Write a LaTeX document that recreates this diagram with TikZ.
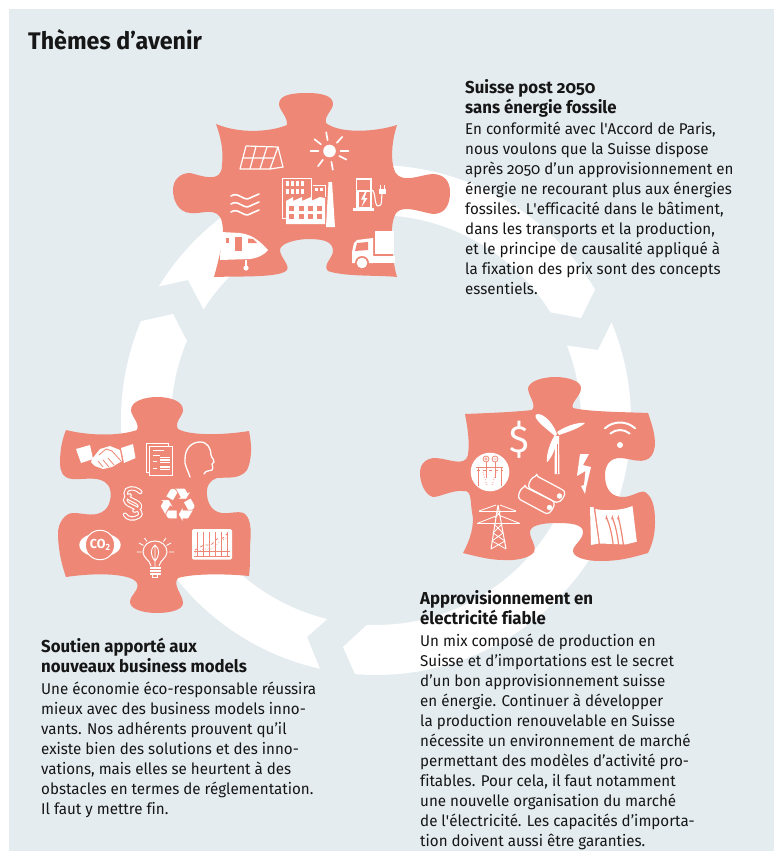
\documentclass[tikz,border=0pt]{standalone}
\usepackage{fontspec}
\setmainfont{Fira Sans}[FakeStretch=0.97,Numbers=OldStyle,Ligatures={TeX,NoCommon}]
\newfontfamily\symfont{DejaVu Sans}
\definecolor{bgc}{HTML}{E4ECF0}
\definecolor{salm}{HTML}{EE8775}
\definecolor{inkc}{HTML}{161616}
\tikzset{
  wf/.style={fill=white,draw=none},
  sf/.style={fill=salm,draw=none},
  wl/.style={draw=white,line width=1pt,fill=none},
  wlb/.style={draw=white,line width=1.4pt,fill=none,line cap=round},
  sl/.style={draw=salm,line width=.6pt,fill=none},
  piece/.style={fill=salm,draw=none},
  headtext/.style={anchor=north west,inner sep=0pt,align=left,text=inkc,font=\fontsize{17.3}{20}\selectfont\bfseries},
  bodytext/.style={anchor=north west,inner sep=0pt,align=left,text=inkc,font=\fontsize{15.6}{20}\selectfont},
}
\begin{document}
\begin{tikzpicture}[x=1pt,y=-1pt]
\useasboundingbox (0,0) rectangle (774,851);
\fill[bgc] (9,9) rectangle (774,851);
% ring bands
\fill[white] plot[domain=148.4:30.8,samples=60] ({376+255*cos(\x)},{420-255*sin(\x)})
  -- (581,318) -- plot[domain=31.7:147.3,samples=60] ({376+205*cos(\x)},{420-205*sin(\x)})
  -- (188,280) -- cycle;
\fill[white] plot[domain=22.5:-94.7,samples=60] ({376+255*cos(\x)},{420-255*sin(\x)})
  -- (343,647) -- plot[domain=-92.5:21.3,samples=60] ({376+205*cos(\x)},{420-205*sin(\x)})
  -- (598,350) -- cycle;
\fill[white] plot[domain=-102.7:-202.8,samples=60] ({376+255*cos(\x)},{420-255*sin(\x)})
  -- (173,314) -- plot[domain=-202.7:-103.8,samples=60] ({376+205*cos(\x)},{420-205*sin(\x)})
  -- (307,637) -- cycle;
% top piece
\fill[piece] (216,124) .. controls (240,134) and (270,132) .. (287,125)
 .. controls (288,117) and (279,110) .. (279,104)
 .. controls (279,94) and (295,93) .. (307,93)
 .. controls (320,93) and (333,95) .. (333,104)
 .. controls (333,110) and (324,116) .. (326,123)
 .. controls (340,134) and (375,132) .. (397,125)
 .. controls (392,140) and (390,160) .. (395,172)
 .. controls (402,184) and (420,175) .. (432,174)
 .. controls (445,174) and (450,182) .. (450,192)
 .. controls (450,205) and (445,214) .. (433,214)
 .. controls (420,212) and (405,205) .. (397,212)
 .. controls (388,222) and (392,260) .. (397,277)
 .. controls (380,275) and (345,277) .. (328,271)
 .. controls (322,265) and (333,258) .. (333,251)
 .. controls (333,240) and (320,239) .. (307,239)
 .. controls (290,240) and (280,245) .. (280,250)
 .. controls (280,257) and (290,265) .. (287,270)
 .. controls (280,278) and (240,276) .. (214,277)
 .. controls (220,255) and (225,235) .. (222,222)
 .. controls (218,205) and (200,215) .. (190,213)
 .. controls (178,212) and (173,200) .. (173,190)
 .. controls (173,180) and (180,173) .. (190,173)
 .. controls (200,175) and (222,185) .. (222,165)
 .. controls (224,150) and (220,135) .. (216,124) -- cycle;
% right piece
\fill[piece] (465,414) .. controls (490,413) and (515,412) .. (532,410)
 .. controls (537,404) and (528,396) .. (528,388)
 .. controls (530,380) and (545,377) .. (555,377)
 .. controls (568,377) and (581,381) .. (581,388)
 .. controls (581,396) and (570,403) .. (573,408)
 .. controls (590,412) and (625,412) .. (648,413)
 .. controls (654,430) and (658,445) .. (652,455)
 .. controls (645,466) and (630,458) .. (620,458)
 .. controls (610,458) and (605,465) .. (605,475)
 .. controls (605,490) and (612,497) .. (623,497)
 .. controls (632,497) and (640,490) .. (645,492)
 .. controls (655,498) and (655,515) .. (655,523)
 .. controls (655,535) and (652,545) .. (648,553)
 .. controls (630,558) and (620,561) .. (600,561)
 .. controls (585,561) and (573,557) .. (573,551)
 .. controls (573,545) and (583,540) .. (583,532)
 .. controls (583,524) and (570,523) .. (557,523)
 .. controls (540,523) and (530,526) .. (530,532)
 .. controls (530,540) and (537,545) .. (534,552)
 .. controls (530,558) and (515,561) .. (503,560)
 .. controls (490,560) and (475,556) .. (463,553)
 .. controls (470,540) and (475,525) .. (472,512)
 .. controls (470,500) and (472,490) .. (463,491)
 .. controls (452,490) and (440,497) .. (433,497)
 .. controls (425,495) and (420,483) .. (420,473)
 .. controls (420,463) and (427,458) .. (435,458)
 .. controls (447,458) and (465,468) .. (468,455)
 .. controls (470,440) and (467,425) .. (465,414) -- cycle;
% left piece
\fill[piece] (66,430) .. controls (90,436) and (120,436) .. (137,430)
 .. controls (140,423) and (131,416) .. (131,410)
 .. controls (131,401) and (145,397) .. (157,397)
 .. controls (170,397) and (183,401) .. (183,410)
 .. controls (183,416) and (174,422) .. (178,429)
 .. controls (190,436) and (225,435) .. (249,431)
 .. controls (252,445) and (252,460) .. (247,470)
 .. controls (240,480) and (225,477) .. (217,478)
 .. controls (210,480) and (206,486) .. (207,495)
 .. controls (208,505) and (213,512) .. (222,513)
 .. controls (230,514) and (240,510) .. (245,514)
 .. controls (252,520) and (251,535) .. (250,546)
 .. controls (250,560) and (250,568) .. (249,576)
 .. controls (230,574) and (195,573) .. (178,578)
 .. controls (172,585) and (183,595) .. (183,603)
 .. controls (183,610) and (170,613) .. (157,613)
 .. controls (143,613) and (130,609) .. (130,602)
 .. controls (130,595) and (140,590) .. (137,583)
 .. controls (132,574) and (100,572) .. (66,577)
 .. controls (60,560) and (58,545) .. (58,533)
 .. controls (58,523) and (65,513) .. (73,513)
 .. controls (85,513) and (95,518) .. (105,510)
 .. controls (112,503) and (112,490) .. (108,485)
 .. controls (100,475) and (85,480) .. (72,479)
 .. controls (62,478) and (60,470) .. (60,463)
 .. controls (60,450) and (62,440) .. (66,430) -- cycle;
% ---- icons top piece ----
% solar panel
\draw[wl,line width=1.2pt,line join=round] (246,146) -- (278,147) -- (270,169) -- (240,169) -- cycle;
\draw[wl,line width=1.2pt] (278,147) -- (283,167) -- (270,169);
\draw[wl,line width=1.2pt] (243,158) -- (274,158) (256,146.5) -- (250,169) (267,146.8) -- (260,169);
% sun
\fill[white] (329.5,151) circle (6.3);
\foreach \a in {0,48,100,142,180,233,280,333}{
  \draw[wlb,line width=1.7pt] ({329.5+11*cos(\a)},{151-11*sin(\a)}) -- ({329.5+19*cos(\a)},{151-19*sin(\a)});
}
% waves
\foreach \yy in {197,205,213}{
  \draw[wlb,line width=1.6pt] (231,\yy-1) .. controls (238,\yy-6) and (244,\yy+5) .. (250,\yy+1) .. controls (254,\yy-1) and (257,\yy-2) .. (259,\yy-3);
}
% factory
\draw[wl] (282.5,178) rectangle (311,218);
\foreach \xx in {286,291,296,301}{ \fill[white] (\xx,181) rectangle +(3.4,5); \fill[white] (\xx,189) rectangle +(3.4,5); }
\draw[wl,line width=.7pt] (313,185) -- (325,185) -- (325,197);
\fill[white] (315,188) rectangle +(3,3); \fill[white] (320,188) rectangle +(3,3);
\fill[white] (286,201) -- (293,197) -- (293,201) -- (302,197) -- (302,201) -- (311,197) -- (311,201) -- (320,197) -- (325,198) -- (325,224) -- (286,224) -- cycle;
\foreach \xx in {289,298.5,307.5,316.5}{ \fill[salm] (\xx,206) rectangle +(5,5); \fill[salm] (\xx,213.5) rectangle +(5,5); }
\fill[white] (328.5,182) -- (332,182) -- (335,227) -- (326,227) -- cycle;
% fuel pump
\fill[white] (353,208) rectangle (374,211);
\draw[wl,line width=1.3pt] (356.5,179) rectangle (371,208);
\fill[white] (356,190) rectangle (372,209);
\fill[salm] (358.5,192) rectangle (369.5,207);
\fill[white] (365,192) -- (361,199.5) -- (364,199.5) -- (361.5,207) -- (367.5,198) -- (364.5,198) -- (366.5,192) -- cycle;
\draw[wl,line width=1.1pt] (372,190) .. controls (376,192) and (374,205) .. (378,206) .. controls (383,206) and (381,200) .. (382,194);
\fill[white] (378.5,189) rectangle (385.5,194);
\draw[wl,line width=.9pt] (380,185) -- (380,189) (384,185) -- (384,189);
% plane
\fill[white] (221,232) -- (240,233) .. controls (255,235) and (262,244) .. (268,250) .. controls (264,255) and (258,258) .. (250,259) -- (220,260) -- cycle;
\fill[salm] (226,238) rectangle (229,243);
\fill[salm] (235,237) rectangle (242,251);
\fill[salm] (248,238.5) -- (253,239) -- (257,243) -- (248,243) -- cycle;
\draw[wl,line width=1.2pt] (246,260) -- (246,266);
\fill[white] (246,268) circle (2.6);
% truck
\fill[white] (375,231) rectangle (394,254);
\fill[white] (372,256) rectangle (394.5,263);
\fill[white] (352,252) -- (354,243) -- (357,240) -- (373,238) -- (373,263) -- (352,263) -- cycle;
\fill[salm] (357,243) -- (368,242) -- (368,250) -- (355,251) -- cycle;
\fill[salm] (362,263) circle (7);
\fill[white] (362,263) circle (5.3);
% ---- icons right piece ----
\node[text=white,inner sep=0pt,font=\fontsize{38}{38}\selectfont] (dollar) at (519,440) {\$};
% turbine
\fill[white] (557,434) .. controls (552,420) and (540,411) .. (535.5,415) .. controls (534,420) and (548,430) .. (555,436) -- cycle;
\fill[white] (557,432) .. controls (567,425) and (580,422) .. (585,423) .. controls (580,428) and (568,432) .. (559,435) -- cycle;
\fill[white] (558.5,437) .. controls (556,447) and (552,458) .. (547,462) .. controls (546,455) and (550,442) .. (555,435) -- cycle;
\fill[white] (555,436) -- (559,436) -- (559.5,474) -- (554.5,474) -- cycle;
\fill[salm] (556.7,444) rectangle (557.5,474);
% wifi
\fill[white] (620,445) circle (3);
\draw[wlb,line width=2pt] ({620+22.5*cos(132)},{445-22.5*sin(132)}) arc[start angle=228,end angle=312,radius=22.5];
\draw[wlb,line width=2pt] ({620+15*cos(130)},{445-15*sin(130)}) arc[start angle=230,end angle=310,radius=15];
% lightning
\fill[white] (580,454) -- (589,454) -- (583,465) -- (591,467) -- (586,488) -- (585,494) -- (581,486) -- (584,485) -- (585.5,471) -- (577,476) -- cycle;
% meter
\fill[white] (490,472) circle (19.3);
\draw[sl,line width=.8pt] (486,459) circle (3) (495,459) circle (3) (484.3,459) -- (487.7,459) (486,457.3) -- (486,460.7) (493.5,459) -- (496.5,459);
\draw[sl,line width=.8pt] (476,467) -- (503,467) (478,467) -- (478,486) (501,467) -- (501,486) (486,462) -- (486,478) (495,462) -- (495,478);
\draw[sl,dotted,line width=1.1pt] (483,472) -- (487,486) (496,472) -- (492,486);
\draw[sl,dashed] (477,470) -- (503,470);
% batteries
\draw[draw=white,fill=salm,line width=1.2pt,rounded corners=1.5pt] (536.7,476) -- (563,490) .. controls (567,494) and (561,503) .. (555,502) -- (529,488) .. controls (528,483) and (532,477) .. (536.7,476) -- cycle;
\draw[draw=white,fill=salm,line width=1.2pt,rounded corners=1.5pt] (525,487) -- (553,501) .. controls (556,505) and (550,515) .. (545,513) -- (519,499) .. controls (518,494) and (521,488) .. (525,487) -- cycle;
\draw[draw=white,fill=white,line width=.5pt] (549.5,507.5) circle (2.4) (559.5,496) circle (2.4);
% pylon
\draw[wl,line width=1pt] (498,505) -- (491,549) (498,505) -- (506,549);
\draw[wl,line width=1pt] (479,511) -- (516,511) (477,523.5) -- (520,523.5);
\draw[wl,line width=.8pt] (479,511) -- (496,505) (516,511) -- (500,505) (477,523.5) -- (496,516) (520,523.5) -- (501,516);
\draw[wl,line width=.8pt] (494,524) -- (503,533) -- (492,541) -- (506,549) (502,524) -- (493,533) -- (505,541) -- (491,549) (496,511) -- (501,517) (501,511) -- (495,518);
% dam
\fill[white] (590,507) -- (593.5,507) -- (598.7,543.5) -- (591,545) -- cycle;
\fill[white] (595.3,509) .. controls (605,511) and (620,511) .. (632.5,506) -- (636.8,541.7) -- (625.7,544.5) -- (600,543.5) -- cycle;
\fill[salm] (606.5,515) -- (607.5,519) -- (605.3,519) -- cycle (612.3,515) -- (613.5,519) -- (611.2,519) -- cycle (618.3,515) -- (619.5,519) -- (617.2,519) -- cycle;
\draw[draw=salm,line width=1.2pt] (606.5,518) .. controls (610,525) and (612,535) .. (613.3,545.5) (612.3,518) .. controls (615.5,525) and (617.5,535) .. (618.7,545.5) (618.3,518) .. controls (620.5,525) and (622,535) .. (623.5,545.5);
% ---- icons left piece ----
% handshake
\fill[white] (76,449) -- (90,445) -- (93,459) -- (81,463) -- cycle;
\fill[white] (121,448) -- (133,444) -- (135.5,458) -- (124,463) -- cycle;
\fill[white] (92,459) -- (100,449) -- (110,446) -- (120,450) -- (122,461) -- (112,467) -- (103,469) -- (95,466) -- (91,462) -- cycle;
\draw[sl,line width=.8pt] (99,455) -- (106,449) -- (112,451) -- (121,461) (108,458) -- (114,465) (103,460) -- (109,467) (98,461) -- (103,467);
% document
\draw[wl,line width=.8pt] (146.5,443.5) rectangle (168,472.5);
\draw[draw=white,fill=salm,line width=.9pt] (149.5,446.5) rectangle (172.5,475);
\draw[wl,line width=.9pt] (153,450.5) -- (164,450.5) (153,455) -- (160,455);
\draw[wl,line width=1.1pt] (160,457.5) -- (170,457.5) (160,460) -- (170,460) (160,462.5) -- (170,462.5) (160,467) -- (170,467) (160,469.5) -- (170,469.5);
\draw[wl,line width=.8pt] (153,461) -- (157,461) (153,468) -- (157,468);
% head
\draw[wl,line width=1.3pt,line cap=round,line join=round] (190,477) .. controls (188,470) and (184,465) .. (185,459) .. controls (185,448) and (192,442) .. (200,442) .. controls (208,442) and (211,449) .. (211,455) .. controls (212,459) and (215,460) .. (214,462) -- (212,464) .. controls (213,467) and (213,470) .. (212,470) -- (206,471.5) -- (204,474);
% paragraph sign (outlined)
\begin{scope}[shift={(115,480)},x=.3333pt,y=-.3333pt,line cap=round]
  \foreach \wd/\cl in {4.4/white,2.2/salm}{
    \draw[draw=\cl,line width=\wd pt] (76,36) .. controls (60,20) and (30,22) .. (32,40) .. controls (34,62) and (80,62) .. (74,82) .. controls (72,88) and (66,90) .. (58,92);
    \draw[draw=\cl,line width=\wd pt] (44,46) .. controls (26,52) and (24,68) .. (50,78) .. controls (70,86) and (86,100) .. (70,110) .. controls (55,120) and (36,116) .. (30,104);
  }
\end{scope}
% recycle
\node[text=white,inner sep=0pt,font=\symfont\fontsize{46}{46}\selectfont] (recyc) at (178,505) {♻};
% CO2
\fill[white] (100,545) ellipse (20.7 and 12);
\draw[draw=white,fill=salm,line width=1pt] (100,545) circle (14.7);
\node[text=white,inner sep=0pt,font=\fontsize{13}{13}\selectfont\bfseries] (co2) at (100,545) {CO\raisebox{-2.5pt}{\fontsize{9}{9}\selectfont\addfontfeature{Numbers=Lining}2}};
% bulb
\draw[wl,line width=1pt] (151,566) .. controls (150,560) and (143,558) .. (143,552) .. controls (143,545) and (149,541) .. (155,541) .. controls (161,541) and (167,545) .. (167,552) .. controls (167,558) and (160,560) .. (159,566);
\draw[wl,line width=.9pt] (155,545) .. controls (160,549) and (160,555) .. (155,561) .. controls (150,555) and (150,549) .. (155,545) -- cycle (155,545) -- (155,567);
\fill[white] (149.5,567) rectangle (160.5,575);
\draw[sl,line width=.7pt] (149.5,569.5) -- (160.5,569.5) (149.5,572.5) -- (160.5,572.5);
\draw[wl,line width=1pt] (152.5,575) -- (152.5,577.5) -- (157.5,577.5) -- (157.5,575);
\draw[wl,line width=.9pt] (136.5,552) -- (141.5,552) (169,552) -- (174,552) (139,543) -- (143.5,545.5) (171,543) -- (166.5,545.5) (144.5,538) -- (147,541.5) (166,538) -- (163.5,541.5);
% chart
\fill[white,rounded corners=1.5pt] (192,529) rectangle (232,559.5);
\foreach \xx in {197,203,209,215,221,227}{ \draw[sl,line width=.8pt] (\xx,532) -- (\xx,556); }
\draw[sl,line width=.8pt] (194,551.5) -- (230,551.5) (194,556) -- (230,556);
\draw[sl,line width=.9pt,dashed] (195,550) -- (204,545) -- (211,545) -- (217,539) -- (223,538) -- (228,533);
\draw[sl,line width=.7pt,dotted] (195,553) -- (204,549) -- (212,549) -- (218,543) -- (228,537);
% ---- texts ----
\node[anchor=north west,inner sep=0pt,text=inkc,font=\fontsize{24}{28}\selectfont\bfseries] (title) at (28,29) {Thèmes d’avenir};
\node[headtext] (h1) at (465,79.5) {Suisse post 2050\\sans énergie fossile};
\node[bodytext] (t1) at (465,122) {En conformité avec l\textquotesingle Accord de Paris,\\nous voulons que la Suisse dispose\\après 2050 d’un approvisionnement en\\énergie ne recourant plus aux énergies\\fossiles. L\textquotesingle efficacité dans le bâtiment,\\dans les transports et la production,\\et le principe de causalité appliqué à\\la fixation des prix sont des concepts\\essentiels.};
\node[headtext] (h2) at (420,590) {Approvisionnement en\\électricité fiable};
\node[bodytext] (t2) at (420,634) {Un mix composé de production en\\Suisse et d’importations est le secret\\d’un bon approvisionnement suisse\\en énergie. Continuer à développer\\la production renouvelable en Suisse\\nécessite un environnement de marché\\permettant des modèles d’activité pro-\\fitables. Pour cela, il faut notamment\\une nouvelle organisation du marché\\de l\textquotesingle électricité. Les capacités d’importa-\\tion doivent aussi être garanties.};
\node[headtext] (h3) at (41,637.5) {Soutien apporté aux\\nouveaux business models};
\node[bodytext] (t3) at (41,682) {Une économie éco-responsable réussira\\mieux avec des business models inno-\\vants. Nos adhérents prouvent qu’il\\existe bien des solutions et des inno-\\vations, mais elles se heurtent à des\\obstacles en termes de réglementation.\\Il faut y mettre fin.};
\end{tikzpicture}
\end{document}
